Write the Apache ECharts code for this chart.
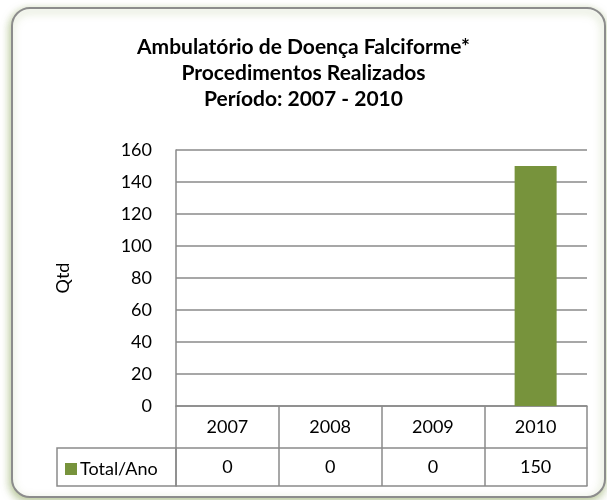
<!DOCTYPE html>
<html>
<head>
<meta charset="utf-8">
<script src="https://cdn.jsdelivr.net/npm/echarts@6/dist/echarts.min.js"></script>
<style>
  html, body { margin: 0; padding: 0; background: #fff; }
  #main { width: 607px; height: 500px; }
</style>
</head>
<body>
<div id="main"></div>
<script>
const anos = ['2007', '2008', '2009', '2010'];
const totalAno = [0, 0, 0, 150];
const ticksY = [0, 20, 40, 60, 80, 100, 120, 140, 160];

const cinza = '#8a8a8a';
const fonte = 'Lato, "Open Sans", sans-serif';

var myChart = echarts.init(document.getElementById('main'));

var option = {
  animation: false,
  textStyle: { fontFamily: fonte },
  title: {
    text: 'Ambulatório de Doença Falciforme*\nProcedimentos Realizados\nPeríodo: 2007 - 2010',
    left: 'center',
    top: 29,
    textStyle: { fontSize: 21, fontWeight: 'bold', color: '#000', lineHeight: 26, fontFamily: fonte }
  },
  legend: {
    left: 60,
    top: 455,
    itemWidth: 12,
    itemHeight: 12,
    icon: 'rect',
    itemGap: 4,
    textStyle: { fontSize: 18, color: '#000', padding: [0, 0, 0, -2] },
    data: ['Total/Ano']
  },
  grid: { left: 176, right: 20, top: 150, bottom: 94 },
  yAxis: {
    type: 'value',
    min: ticksY[0],
    max: ticksY[ticksY.length - 1],
    interval: 20,
    name: 'Qtd',
    nameLocation: 'middle',
    nameRotate: 90,
    nameGap: 104,
    nameTextStyle: { fontSize: 18, color: '#000' },
    axisLine: { show: true, lineStyle: { color: cinza, width: 1.5 } },
    axisTick: { show: false },
    axisLabel: { fontSize: 18, color: '#000', margin: 24 },
    splitLine: { lineStyle: { color: cinza, width: 1.5 } }
  },
  xAxis: [
    {
      type: 'category',
      data: anos,
      position: 'bottom',
      axisLine: { lineStyle: { color: cinza, width: 1.5 } },
      axisTick: { show: true, interval: 0, length: 80, lineStyle: { color: cinza, width: 1.5 } },
      axisLabel: { fontSize: 18, color: '#000', margin: 12 }
    },
    {
      type: 'category',
      data: anos,
      position: 'bottom',
      offset: 42,
      axisLine: { lineStyle: { color: cinza, width: 1.5 } },
      axisTick: { show: false },
      axisLabel: {
        fontSize: 18, color: '#000', margin: 10,
        formatter: function (v, i) { return String(totalAno[i]); }
      }
    },
    {
      type: 'category',
      data: anos,
      position: 'bottom',
      offset: 80,
      axisLine: { lineStyle: { color: cinza, width: 1.5 } },
      axisTick: { show: false },
      axisLabel: { show: false }
    }
  ],
  graphic: [
    {
      type: 'rect',
      z: -10,
      silent: true,
      shape: { x: 12, y: 8, width: 593, height: 489, r: 18 },
      style: {
        fill: '#fff',
        stroke: '#8c8c8c',
        lineWidth: 2,
        shadowColor: 'rgba(119,147,60,0.55)',
        shadowBlur: 8,
        shadowOffsetX: -1,
        shadowOffsetY: 3
      }
    },
    {
      type: 'rect',
      silent: true,
      shape: { x: 57, y: 448, width: 119, height: 38 },
      style: { fill: 'none', stroke: cinza, lineWidth: 1.5 }
    }
  ],
  series: [
    {
      name: 'Total/Ano',
      type: 'bar',
      xAxisIndex: 0,
      barWidth: 42,
      itemStyle: { color: '#77933C' },
      data: totalAno
    }
  ]
};

option && myChart.setOption(option);
</script>
</body>
</html>
